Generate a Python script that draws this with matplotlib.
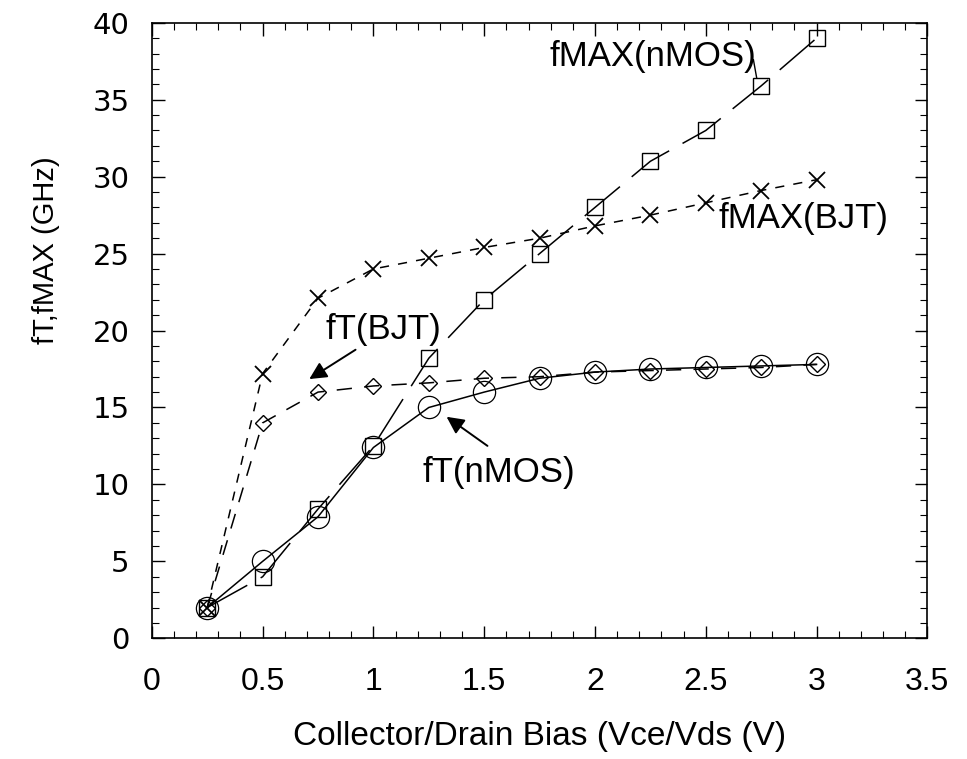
import matplotlib
matplotlib.use("Agg")
import matplotlib.pyplot as plt
from matplotlib.ticker import MultipleLocator

plt.rcParams['font.family'] = ['Liberation Sans', 'DejaVu Sans']

bias = [0.25, 0.5, 0.75, 1.0, 1.25, 1.5, 1.75, 2.0, 2.25, 2.5, 2.75, 3.0]
fmax_nmos = [2.0, 4.0, 8.4, 12.5, 18.2, 22.0, 25.0, 28.0, 31.0, 33.0, 35.9, 39.0]
fmax_bjt = [2.0, 17.2, 22.1, 24.0, 24.7, 25.4, 26.0, 26.8, 27.5, 28.3, 29.1, 29.8]
ft_bjt = [2.0, 14.0, 16.0, 16.4, 16.6, 16.9, 17.0, 17.3, 17.4, 17.5, 17.6, 17.8]
ft_nmos = [2.0, 5.0, 7.9, 12.4, 15.0, 16.0, 16.9, 17.3, 17.5, 17.6, 17.7, 17.8]

x_ticks = [0, 0.5, 1, 1.5, 2, 2.5, 3, 3.5]
y_ticks = [0, 5, 10, 15, 20, 25, 30, 35, 40]

fig = plt.figure(figsize=(9.67, 7.59), dpi=100)
ax = fig.add_axes([0.157, 0.159, 0.802, 0.811])

lw = 1.1
ax.plot(bias, fmax_nmos, color='black', lw=lw, ls=(0, (30, 10)),
        marker='s', ms=12, mfc='none', mec='black', mew=1.0)
ax.plot(bias, fmax_bjt, color='black', lw=lw, ls=(0, (6, 6)),
        marker='x', ms=11, mec='black', mew=1.3)
ax.plot(bias, ft_bjt, color='black', lw=lw, ls=(0, (10, 8)),
        marker='D', ms=8, mfc='none', mec='black', mew=1.0)
ax.plot(bias, ft_nmos, color='black', lw=lw, ls='-',
        marker='o', ms=16, mfc='none', mec='black', mew=0.9)

ax.set_xlim(0, 3.5)
ax.set_ylim(0, 40)
ax.set_xticks(x_ticks)
ax.set_xticklabels([f"{t:g}" for t in x_ticks])
ax.set_yticks(y_ticks)
ax.set_yticklabels([f"{t:g}" for t in y_ticks])
ax.xaxis.set_minor_locator(MultipleLocator(0.1))
ax.yaxis.set_minor_locator(MultipleLocator(1))
ax.tick_params(which='both', direction='in', top=True, right=True)
ax.tick_params(which='major', length=9, width=1.0)
ax.tick_params(which='minor', length=5, width=0.8)
ax.tick_params(axis='x', pad=21, labelsize=23)
ax.tick_params(axis='y', pad=16)
for lbl in ax.get_yticklabels():
    lbl.set_fontfamily('DejaVu Sans')
    lbl.set_fontsize(21)
for s in ax.spines.values():
    s.set_linewidth(1.2)

ax.set_xlabel('Collector/Drain Bias (Vce/Vds (V)', fontsize=24)
ax.xaxis.set_label_coords(0.5, -0.135)
ax.set_ylabel('fT,fMAX (GHz)', fontsize=21)
ax.yaxis.set_label_coords(-0.118, 0.63)

ax.text(2.26, 37.8, 'fMAX(nMOS)', fontsize=25, ha='center', va='center')
ax.text(2.94, 27.3, 'fMAX(BJT)', fontsize=25, ha='center', va='center')
ax.text(1.045, 20.1, 'fT(BJT)', fontsize=25, ha='center', va='center')
ax.text(1.567, 10.8, 'fT(nMOS)', fontsize=25, ha='center', va='center')

ax.annotate('', xy=(0.70, 16.75), xytext=(0.93, 18.85),
            arrowprops=dict(arrowstyle='-|>', color='black', lw=1.4, mutation_scale=26))
ax.annotate('', xy=(1.32, 14.5), xytext=(1.525, 12.4),
            arrowprops=dict(arrowstyle='-|>', color='black', lw=1.4, mutation_scale=26))
ax.plot([2.715, 2.73], [37.6, 36.4], color='black', lw=1.0)

fig.savefig('out.png', dpi=100)
